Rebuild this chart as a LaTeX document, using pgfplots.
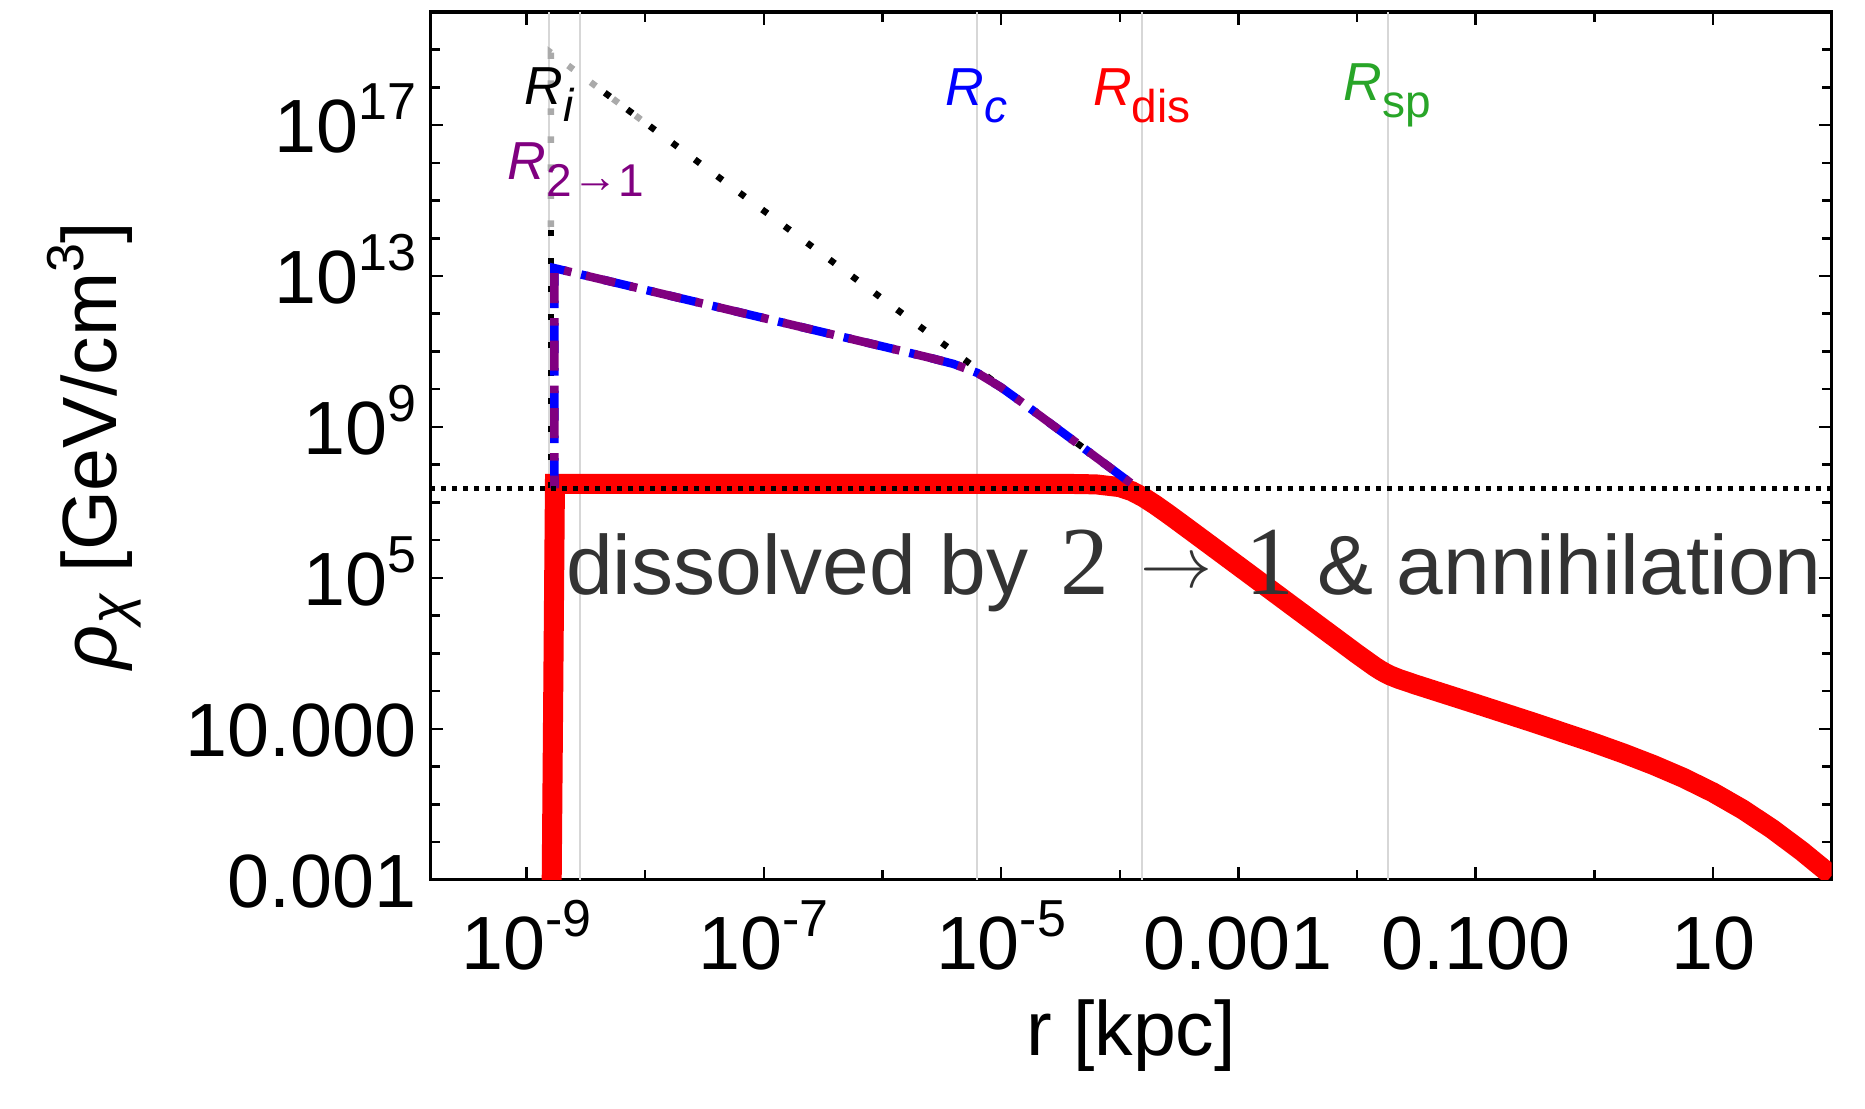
\documentclass[border=0pt]{standalone}
\usepackage{fontspec}
\setmainfont{Liberation Sans}
\newfontfamily\seriffont{Liberation Serif}
\usepackage{pgfplots}
\pgfplotsset{compat=1.18}

\definecolor{gridc}{RGB}{215,215,215}
\definecolor{mypurple}{RGB}{128,0,128}
\definecolor{mygreen}{RGB}{40,165,40}
\definecolor{txtgray}{RGB}{51,51,51}
\definecolor{dotgray}{RGB}{170,170,170}

\newcommand{\tfont}{\fontsize{15.1}{16}\selectfont}
\newcommand{\lbfont}{\fontsize{15.4}{16}\selectfont}
\newcommand{\sups}[1]{\raisebox{6.6pt}{\fontsize{10.4}{11}\selectfont #1}}
\newcommand{\subs}[1]{\raisebox{-3.3pt}{\fontsize{9.2}{10}\selectfont #1}}
\newcommand{\lfont}{\fontsize{10.7}{11}\selectfont}

\begin{document}
\begin{tikzpicture}
\begin{axis}[
  name=ax,
  xmode=log, ymode=log,
  scale only axis, width=280.3pt, height=173.6pt,
  xmin=1.55e-10, xmax=100, ymin=1e-3, ymax=1e20,
  axis line style={line width=0.7pt},
  every tick/.style={black, line width=0.5pt},
  major tick length=2.6pt, minor tick length=2pt,
  tick align=inside, xtick pos=both, ytick pos=both,
  xtick={1e-9,1e-7,1e-5,1e-3,1e-1,10},
  xticklabels={10\sups{-9},10\sups{-7},10\sups{-5},0.001,0.100,10},
  minor xtick={1e-10,1e-8,1e-6,1e-4,1e-2,1,100},
  ytick={1e-3,10,1e5,1e9,1e13,1e17},
  yticklabels={0.001,10.000,10\sups{5},10\sups{9},10\sups{13},10\sups{17}},
  minor ytick={1e-2,1e-1,1,100,1000,1e4,1e6,1e7,1e8,1e10,1e11,1e12,1e14,1e15,1e16,1e18,1e19,1e20},
  xticklabel style={font=\tfont, anchor=base, inner sep=0pt, yshift=-18pt},
  yticklabel style={font=\tfont, anchor=base east, inner sep=0pt, xshift=-2.6pt, yshift=-5.5pt},
  xlabel={r [kpc]},
  xlabel style={font=\lbfont, at={(axis description cs:0.5,-0.202)}, anchor=base, inner sep=0pt},
  ylabel={\textit{ρ}\raisebox{-2.6pt}{\fontsize{11.2}{11}\selectfont\textit{χ}} [GeV/cm\sups{3}]},
  ylabel style={font=\lbfont, at={(axis description cs:-0.2237,0.5)}, anchor=base, inner sep=0pt},
]
% reference radii (grid lines)
\addplot[gridc, line width=0.4pt, forget plot] coordinates {(1.56e-9,1e-3) (1.56e-9,1e20)};
\addplot[gridc, line width=0.4pt, forget plot] coordinates {(2.84e-9,1e-3) (2.84e-9,1e20)};
\addplot[gridc, line width=0.4pt, forget plot] coordinates {(6.21e-6,1e-3) (6.21e-6,1e20)};
\addplot[gridc, line width=0.4pt, forget plot] coordinates {(1.535e-4,1e-3) (1.535e-4,1e20)};
\addplot[gridc, line width=0.4pt, forget plot] coordinates {(1.807e-2,1e-3) (1.807e-2,1e20)};

% red: dissolved profile
\addplot[red, line width=4pt, line join=miter] coordinates {
(1.6218e-9,1e-4) (1.7378e-9,3.0903e7) (1e-5,3.0903e7) (2.512e-5,3.09e7)
(3.981e-5,3.083e7) (6.310e-5,3.006e7) (1e-4,2.541e7) (1.2589e-4,1.995e7)
(1.5849e-4,1.368e7) (1.9953e-4,8.570e6) (2.5119e-4,5.140e6) (3.1623e-4,3.027e6)
(5.0119e-4,1.038e6) (1e-3,2.075e5) (3.1623e-3,1.4125e4) (1e-2,961.6)
(1.4125e-2,442.6) (1.5849e-2,351.6) (1.7378e-2,298.5) (1.9055e-2,258.8)
(2.2387e-2,210.9) (3.1623e-2,146.2) (0.1,45.92) (0.31623,14.19) (1,4.207)
(1.7783,2.198) (3.1623,1.091) (5.6234,0.5023) (10,0.2061) (17.783,0.07295)
(31.623,0.02198) (56.234,5.675e-3) (100,1.288e-3)
};

% gray dotted (upper part of initial spike)
\addplot[dotgray, line width=1.3pt, dash pattern=on 1.3pt off 4.3pt] coordinates {
(1.603e-9,1.995e14) (1.603e-9,8.318e18) (1.096e-8,9.333e16)
};
% black dotted spike
\addplot[black, line width=1.3pt, dash pattern=on 1.3pt off 4.3pt] coordinates {
(1.603e-9,2.4e7) (1.603e-9,1.995e14)
};
\addplot[black, line width=1.3pt, dash pattern=on 1.3pt off 4.3pt] coordinates {
(4.571e-9,7.194e17) (1.4125e-4,2.399e7)
};

% blue and purple dot-dashed
\addplot[blue, line width=1.7pt, dash pattern=on 6pt off 3pt on 1.5pt off 3pt] coordinates {
(1.718e-9,2.4e7) (1.718e-9,1.618e13) (1e-7,7.674e11) (1e-6,1.365e11)
(2.512e-6,6.808e10) (3.981e-6,4.667e10) (6.310e-6,2.704e10) (1e-5,1.119e10)
(1.585e-5,3.936e9) (1.4125e-4,2.399e7)
};
\addplot[mypurple, line width=1.7pt, dash pattern=on 6pt off 3pt on 1.5pt off 3pt, dash phase=3.5pt] coordinates {
(1.718e-9,2.4e7) (1.718e-9,1.618e13) (1e-7,7.674e11) (1e-6,1.365e11)
(2.512e-6,6.808e10) (3.981e-6,4.667e10) (6.310e-6,2.704e10) (1e-5,1.119e10)
(1.585e-5,3.936e9) (1.4125e-4,2.399e7)
};

% horizontal dotted line
\addplot[black, line width=1pt, dash pattern=on 1pt off 1.2pt] coordinates {
(1.55e-10,2.4e7) (100,2.4e7)
};

% labels
\node[anchor=base, inner sep=0pt, font=\lfont, black] at (axis cs:1.56e-9,3.467e17) {\textit{R}\subs{\textit{i}}};
\node[anchor=base, inner sep=0pt, font=\lfont, mypurple] at (axis cs:2.6e-9,3.548e15) {\textit{R}\subs{2\raisebox{0.8pt}{→}1}};
\node[anchor=base, inner sep=0pt, font=\lfont, blue] at (axis cs:6.21e-6,3.3e17) {\textit{R}\subs{\textit{c}}};
\node[anchor=base, inner sep=0pt, font=\lfont, red] at (axis cs:1.535e-4,3.3e17) {\textit{R}\subs{dis}};
\node[anchor=base, inner sep=0pt, font=\lfont, mygreen] at (axis cs:1.807e-2,4.467e17) {\textit{R}\subs{sp}};

\node[anchor=base west, inner sep=0pt, txtgray, font=\fontsize{16.8}{18}\selectfont] at (axis cs:2.123e-9,3.606e4)
 {dissolved by\hspace{6.4pt}{\seriffont\fontsize{19.5}{20}\selectfont 2}\hspace{6.3pt}\raisebox{1.4pt}{\fontsize{15.6}{16}\selectfont$\rightarrow$}\hspace{6.5pt}{\seriffont\fontsize{19.5}{20}\selectfont 1}\hspace{4.7pt}\& annihilation};
\end{axis}
\pgfresetboundingbox
\path[use as bounding box] ([xshift=-86.1pt,yshift=-45.76pt]ax.south west) rectangle ([xshift=6.66pt,yshift=2.38pt]ax.north east);
\end{tikzpicture}
\end{document}
